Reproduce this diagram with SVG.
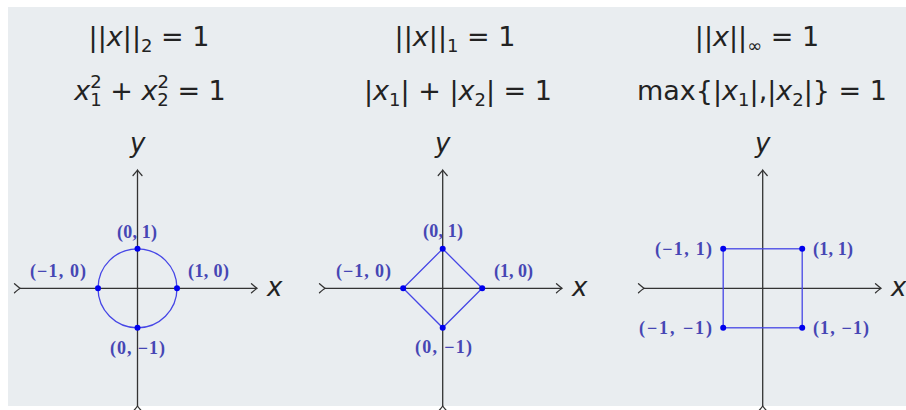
<svg xmlns="http://www.w3.org/2000/svg" width="906" height="410" viewBox="0 0 906 410">
<style>
.t{font-family:"DejaVu Sans","Liberation Sans",sans-serif;font-size:27px;fill:#222;text-anchor:middle}
.i{font-style:italic}
.s{font-size:18px}
.ax{stroke:#333;stroke-width:1.3;fill:none}
.sh{stroke:#4646e6;stroke-width:1.3;fill:none}
.pt{fill:#0000ee}
.lb{font-family:"Liberation Serif","DejaVu Serif",serif;font-size:18px;font-weight:bold;fill:#4646b4}
.al{font-family:"DejaVu Sans","Liberation Sans",sans-serif;font-size:26px;font-style:italic;fill:#222}
</style>
<defs>
<marker id="arr" viewBox="-7 -6 9 12" markerWidth="9" markerHeight="12" refX="0" refY="0" orient="auto" markerUnits="userSpaceOnUse">
<path d="M -5.5 -4.5 Q -1.5 -1 0 0 Q -1.5 1 -5.5 4.5" stroke="#333" stroke-width="1.3" fill="none" stroke-linecap="round"/>
</marker>
</defs>
<rect x="8" y="7" width="898" height="399" fill="#e9edf0"/>

<g id="titles">
<text class="t" x="149" y="46">||<tspan class="i">x</tspan>||<tspan class="s" dy="6">2</tspan><tspan dy="-6"> = 1</tspan></text>
<text class="t" x="150" y="100"><tspan class="i">x</tspan><tspan class="s" dy="-12">2</tspan><tspan class="s" dx="-11.5" dy="18">1</tspan><tspan dy="-6"> + </tspan><tspan class="i">x</tspan><tspan class="s" dy="-12">2</tspan><tspan class="s" dx="-11.5" dy="18">2</tspan><tspan dy="-6"> = 1</tspan></text>
<text class="t" x="455" y="46">||<tspan class="i">x</tspan>||<tspan class="s" dy="6">1</tspan><tspan dy="-6"> = 1</tspan></text>
<text class="t" x="458" y="100">|<tspan class="i">x</tspan><tspan class="s" dy="6">1</tspan><tspan dy="-6">| + |</tspan><tspan class="i">x</tspan><tspan class="s" dy="6">2</tspan><tspan dy="-6">| = 1</tspan></text>
<text class="t" x="757" y="46">||<tspan class="i">x</tspan>||<tspan class="s" dy="6">∞</tspan><tspan dy="-6"> = 1</tspan></text>
<text class="t" x="762" y="100">max{|<tspan class="i">x</tspan><tspan class="s" dy="6">1</tspan><tspan dy="-6">|,|</tspan><tspan class="i">x</tspan><tspan class="s" dy="6">2</tspan><tspan dy="-6">|} = 1</tspan></text>
</g>

<g id="connectors">
<line class="ax" x1="20" y1="288.3" x2="257" y2="288.3" marker-start="url(#arr)" marker-end="url(#arr)"/>
<line class="ax" x1="137.5" y1="406" x2="137.5" y2="170" marker-start="url(#arr)" marker-end="url(#arr)"/>
<line class="ax" x1="325" y1="288.3" x2="562" y2="288.3" marker-start="url(#arr)" marker-end="url(#arr)"/>
<line class="ax" x1="442.7" y1="406" x2="442.7" y2="170" marker-start="url(#arr)" marker-end="url(#arr)"/>
<line class="ax" x1="644" y1="288.3" x2="881" y2="288.3" marker-start="url(#arr)" marker-end="url(#arr)"/>
<line class="ax" x1="762.7" y1="406" x2="762.7" y2="170" marker-start="url(#arr)" marker-end="url(#arr)"/>
</g>

<g id="panel-l2">
<circle class="sh" cx="137.5" cy="288.3" r="39.5"/>
<circle class="pt" cx="137.5" cy="248.8" r="3"/>
<circle class="pt" cx="137.5" cy="327.8" r="3"/>
<circle class="pt" cx="98" cy="288.3" r="3"/>
<circle class="pt" cx="177" cy="288.3" r="3"/>
<text class="lb" x="117" y="238" textLength="40">(0, 1)</text>
<text class="lb" x="30" y="277" textLength="56">(−1, 0)</text>
<text class="lb" x="188" y="277" textLength="41">(1, 0)</text>
<text class="lb" x="110" y="354" textLength="55">(0, −1)</text>
<text class="al" x="267" y="296">x</text>
<text class="al" x="130" y="152">y</text>
</g>

<g id="panel-l1">
<polygon class="sh" points="442.7,248.8 482.2,288.3 442.7,327.8 403.2,288.3"/>
<circle class="pt" cx="442.7" cy="248.8" r="3"/>
<circle class="pt" cx="442.7" cy="327.8" r="3"/>
<circle class="pt" cx="403.2" cy="288.3" r="3"/>
<circle class="pt" cx="482.2" cy="288.3" r="3"/>
<text class="lb" x="423" y="237" textLength="40">(0, 1)</text>
<text class="lb" x="336" y="277" textLength="55">(−1, 0)</text>
<text class="lb" x="494" y="277" textLength="39">(1, 0)</text>
<text class="lb" x="415" y="353" textLength="57">(0, −1)</text>
<text class="al" x="572" y="296">x</text>
<text class="al" x="435" y="152">y</text>
</g>

<g id="panel-linf">
<rect class="sh" x="723.2" y="248.8" width="79" height="79"/>
<circle class="pt" cx="723.2" cy="248.8" r="3"/>
<circle class="pt" cx="802.2" cy="248.8" r="3"/>
<circle class="pt" cx="723.2" cy="327.8" r="3"/>
<circle class="pt" cx="802.2" cy="327.8" r="3"/>
<text class="lb" x="655" y="255" textLength="57">(−1, 1)</text>
<text class="lb" x="813" y="255" textLength="40">(1, 1)</text>
<text class="lb" x="639" y="334" textLength="73">(−1, −1)</text>
<text class="lb" x="813" y="334" textLength="56">(1, −1)</text>
<text class="al" x="891" y="296">x</text>
<text class="al" x="755" y="152">y</text>
</g>
</svg>
